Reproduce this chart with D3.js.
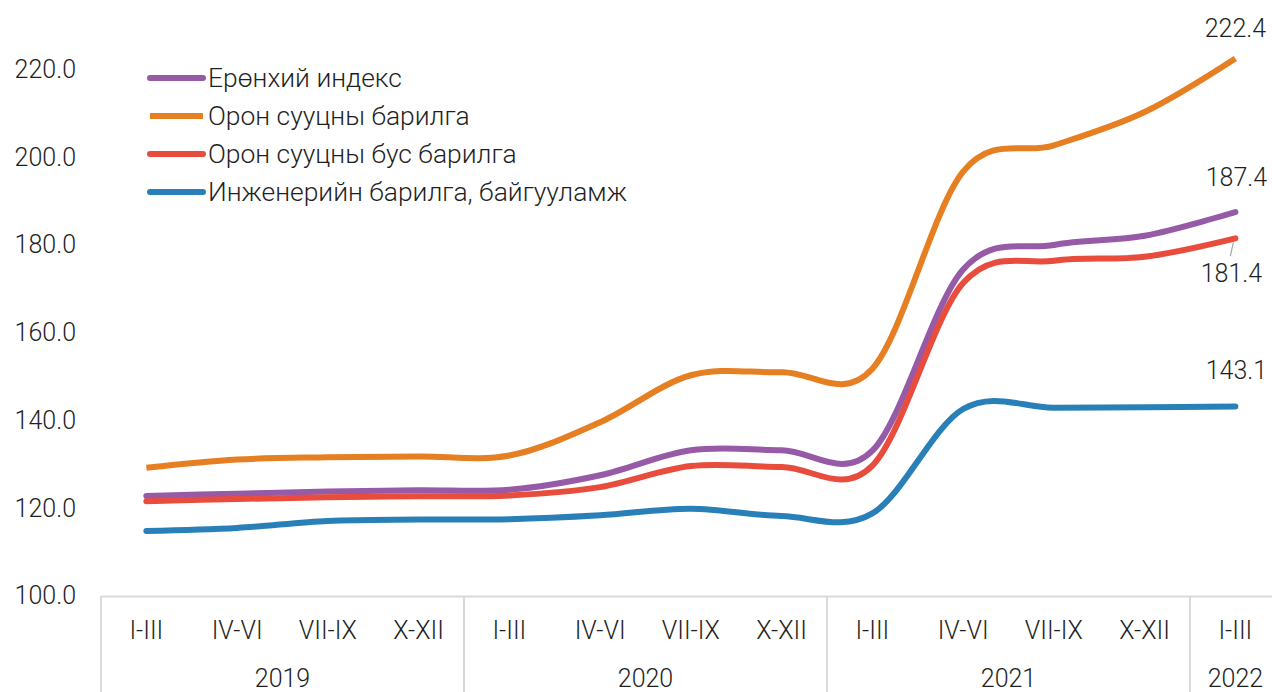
<!DOCTYPE html>
<html>
<head>
<meta charset="utf-8">
<script src="https://cdn.jsdelivr.net/npm/d3@7"></script>
<style>
  body { margin: 0; background: #fff; }
  text { font-family: Roboto, "Noto Sans", sans-serif; font-weight: 300; fill: #1f1f1f; }
</style>
</head>
<body>
<div class="visHolder"></div>
<script>
var width = 1272,
  height = 692;

// data
var quarters = ["I-III", "IV-VI", "VII-IX", "X-XII", "I-III", "IV-VI", "VII-IX", "X-XII", "I-III", "IV-VI", "VII-IX", "X-XII", "I-III"];
var years = ["2019", "2020", "2021", "2022"];
var yearSpans = [4, 4, 4, 1];
var seriesNames = ["Ерөнхий индекс", "Орон сууцны барилга", "Орон сууцны бус барилга", "Инженерийн барилга, байгууламж"];
var generalIndex = [122.7, 123.2, 123.7, 124.0, 124.1, 127.4, 133.1, 133.1, 133.0, 174.3, 179.9, 182.0, 187.4];
var residential = [129.1, 131.0, 131.5, 131.7, 131.9, 139.5, 150.2, 150.9, 151.7, 196.6, 202.6, 210.2, 222.4];
var nonResidential = [121.5, 122.0, 122.4, 122.6, 122.8, 124.7, 129.5, 129.3, 129.6, 171.2, 176.3, 177.2, 181.4];
var engineering = [114.7, 115.4, 117.0, 117.3, 117.4, 118.3, 119.8, 118.1, 118.7, 142.5, 142.8, 142.9, 143.1];
var yTicks = [100, 120, 140, 160, 180, 200, 220];

var colors = ["#965aa6", "#e67e22", "#e74c3c", "#2980b9"];
var allSeries = [generalIndex, residential, nonResidential, engineering];

var svg = d3.select(".visHolder").append("svg").attr("width", width).attr("height", height);

var xScale = d3.scaleBand()
  .domain(d3.range(quarters.length))
  .range([101, 101 + 90.75 * quarters.length]);

var yScale = d3.scaleLinear().domain([100, 240]).range([595.5, 595.5 - 140 * 4.3875]);

// y axis labels
svg.append("g")
  .selectAll("text")
  .data(yTicks)
  .enter()
  .append("text")
  .attr("x", 76)
  .attr("y", d => yScale(d))
  .attr("dy", "0.35em")
  .style("text-anchor", "end")
  .style("font-size", "25px")
  .text(d => d.toFixed(1));

// x axis line
svg.append("line")
  .attr("x1", 101).attr("x2", width)
  .attr("y1", 596.5).attr("y2", 596.5)
  .style("stroke", "#d9d9d9").style("stroke-width", 2);

// year separators
var cum = 0;
var sepIdx = [0];
yearSpans.forEach(s => { cum += s; sepIdx.push(cum); });
svg.append("g")
  .selectAll("line")
  .data(sepIdx.slice(0, 4))
  .enter()
  .append("line")
  .attr("x1", d => xScale(d)).attr("x2", d => xScale(d))
  .attr("y1", 596).attr("y2", height)
  .style("stroke", "#d9d9d9").style("stroke-width", 2);

// quarter labels
svg.append("g")
  .selectAll("text")
  .data(quarters)
  .enter()
  .append("text")
  .attr("x", (d, i) => xScale(i) + xScale.bandwidth() / 2)
  .attr("y", 630)
  .attr("dy", "0.35em")
  .style("text-anchor", "middle")
  .style("font-size", "25px")
  .text(d => d);

// year labels
svg.append("g")
  .selectAll("text")
  .data(years)
  .enter()
  .append("text")
  .attr("x", (d, i) => (xScale(sepIdx[i]) + xScale(sepIdx[i + 1] - 1) + xScale.bandwidth()) / 2)
  .attr("y", 678)
  .attr("dy", "0.35em")
  .style("text-anchor", "middle")
  .style("font-size", "25px")
  .text(d => d);

// lines
var line = d3.line()
  .x((d, i) => xScale(i) + xScale.bandwidth() / 2)
  .y(d => yScale(d))
  .curve(d3.curveCardinal.tension(0));

// draw in order: orange, purple, red, blue
[1, 0, 2, 3].forEach(function (k) {
  svg.append("path")
    .datum(allSeries[k])
    .attr("d", line)
    .style("fill", "none")
    .style("stroke", colors[k])
    .style("stroke-width", 6)
    .style("stroke-linecap", k === 1 ? "butt" : "round")
    .style("stroke-linejoin", "round");
});

// value labels at the end
var last = quarters.length - 1;
var lx = xScale(last) + xScale.bandwidth() / 2;
var endLabels = [
  { v: residential[last], dx: 0, y: 28 },
  { v: generalIndex[last], dx: 1, y: 177 },
  { v: nonResidential[last], dx: -4, y: 273 },
  { v: engineering[last], dx: 1, y: 370 }
];
svg.append("line")
  .attr("x1", lx - 2).attr("y1", yScale(nonResidential[last]) + 4)
  .attr("x2", lx - 5).attr("y2", 256)
  .style("stroke", "#a6a6a6").style("stroke-width", 1.2);

svg.append("g")
  .selectAll("text")
  .data(endLabels)
  .enter()
  .append("text")
  .attr("x", d => lx + d.dx)
  .attr("y", d => d.y)
  .attr("dy", "0.35em")
  .style("text-anchor", "middle")
  .style("font-size", "25px")
  .text(d => d.v.toFixed(1));

// legend
var legend = svg.append("g").attr("id", "legend");
var legendItems = legend.selectAll("g")
  .data(seriesNames)
  .enter()
  .append("g")
  .attr("transform", (d, i) => "translate(0," + (78 + i * 38) + ")");

legendItems.append("line")
  .attr("x1", 150).attr("x2", 203)
  .attr("y1", 0).attr("y2", 0)
  .style("stroke", (d, i) => colors[i])
  .style("stroke-width", 6)
  .style("stroke-linecap", (d, i) => i === 1 ? "butt" : "round");

legendItems.append("text")
  .attr("x", 208)
  .attr("y", 0)
  .attr("dy", "0.35em")
  .style("font-size", "26.4px")
  .text(d => d);
</script>
</body>
</html>
